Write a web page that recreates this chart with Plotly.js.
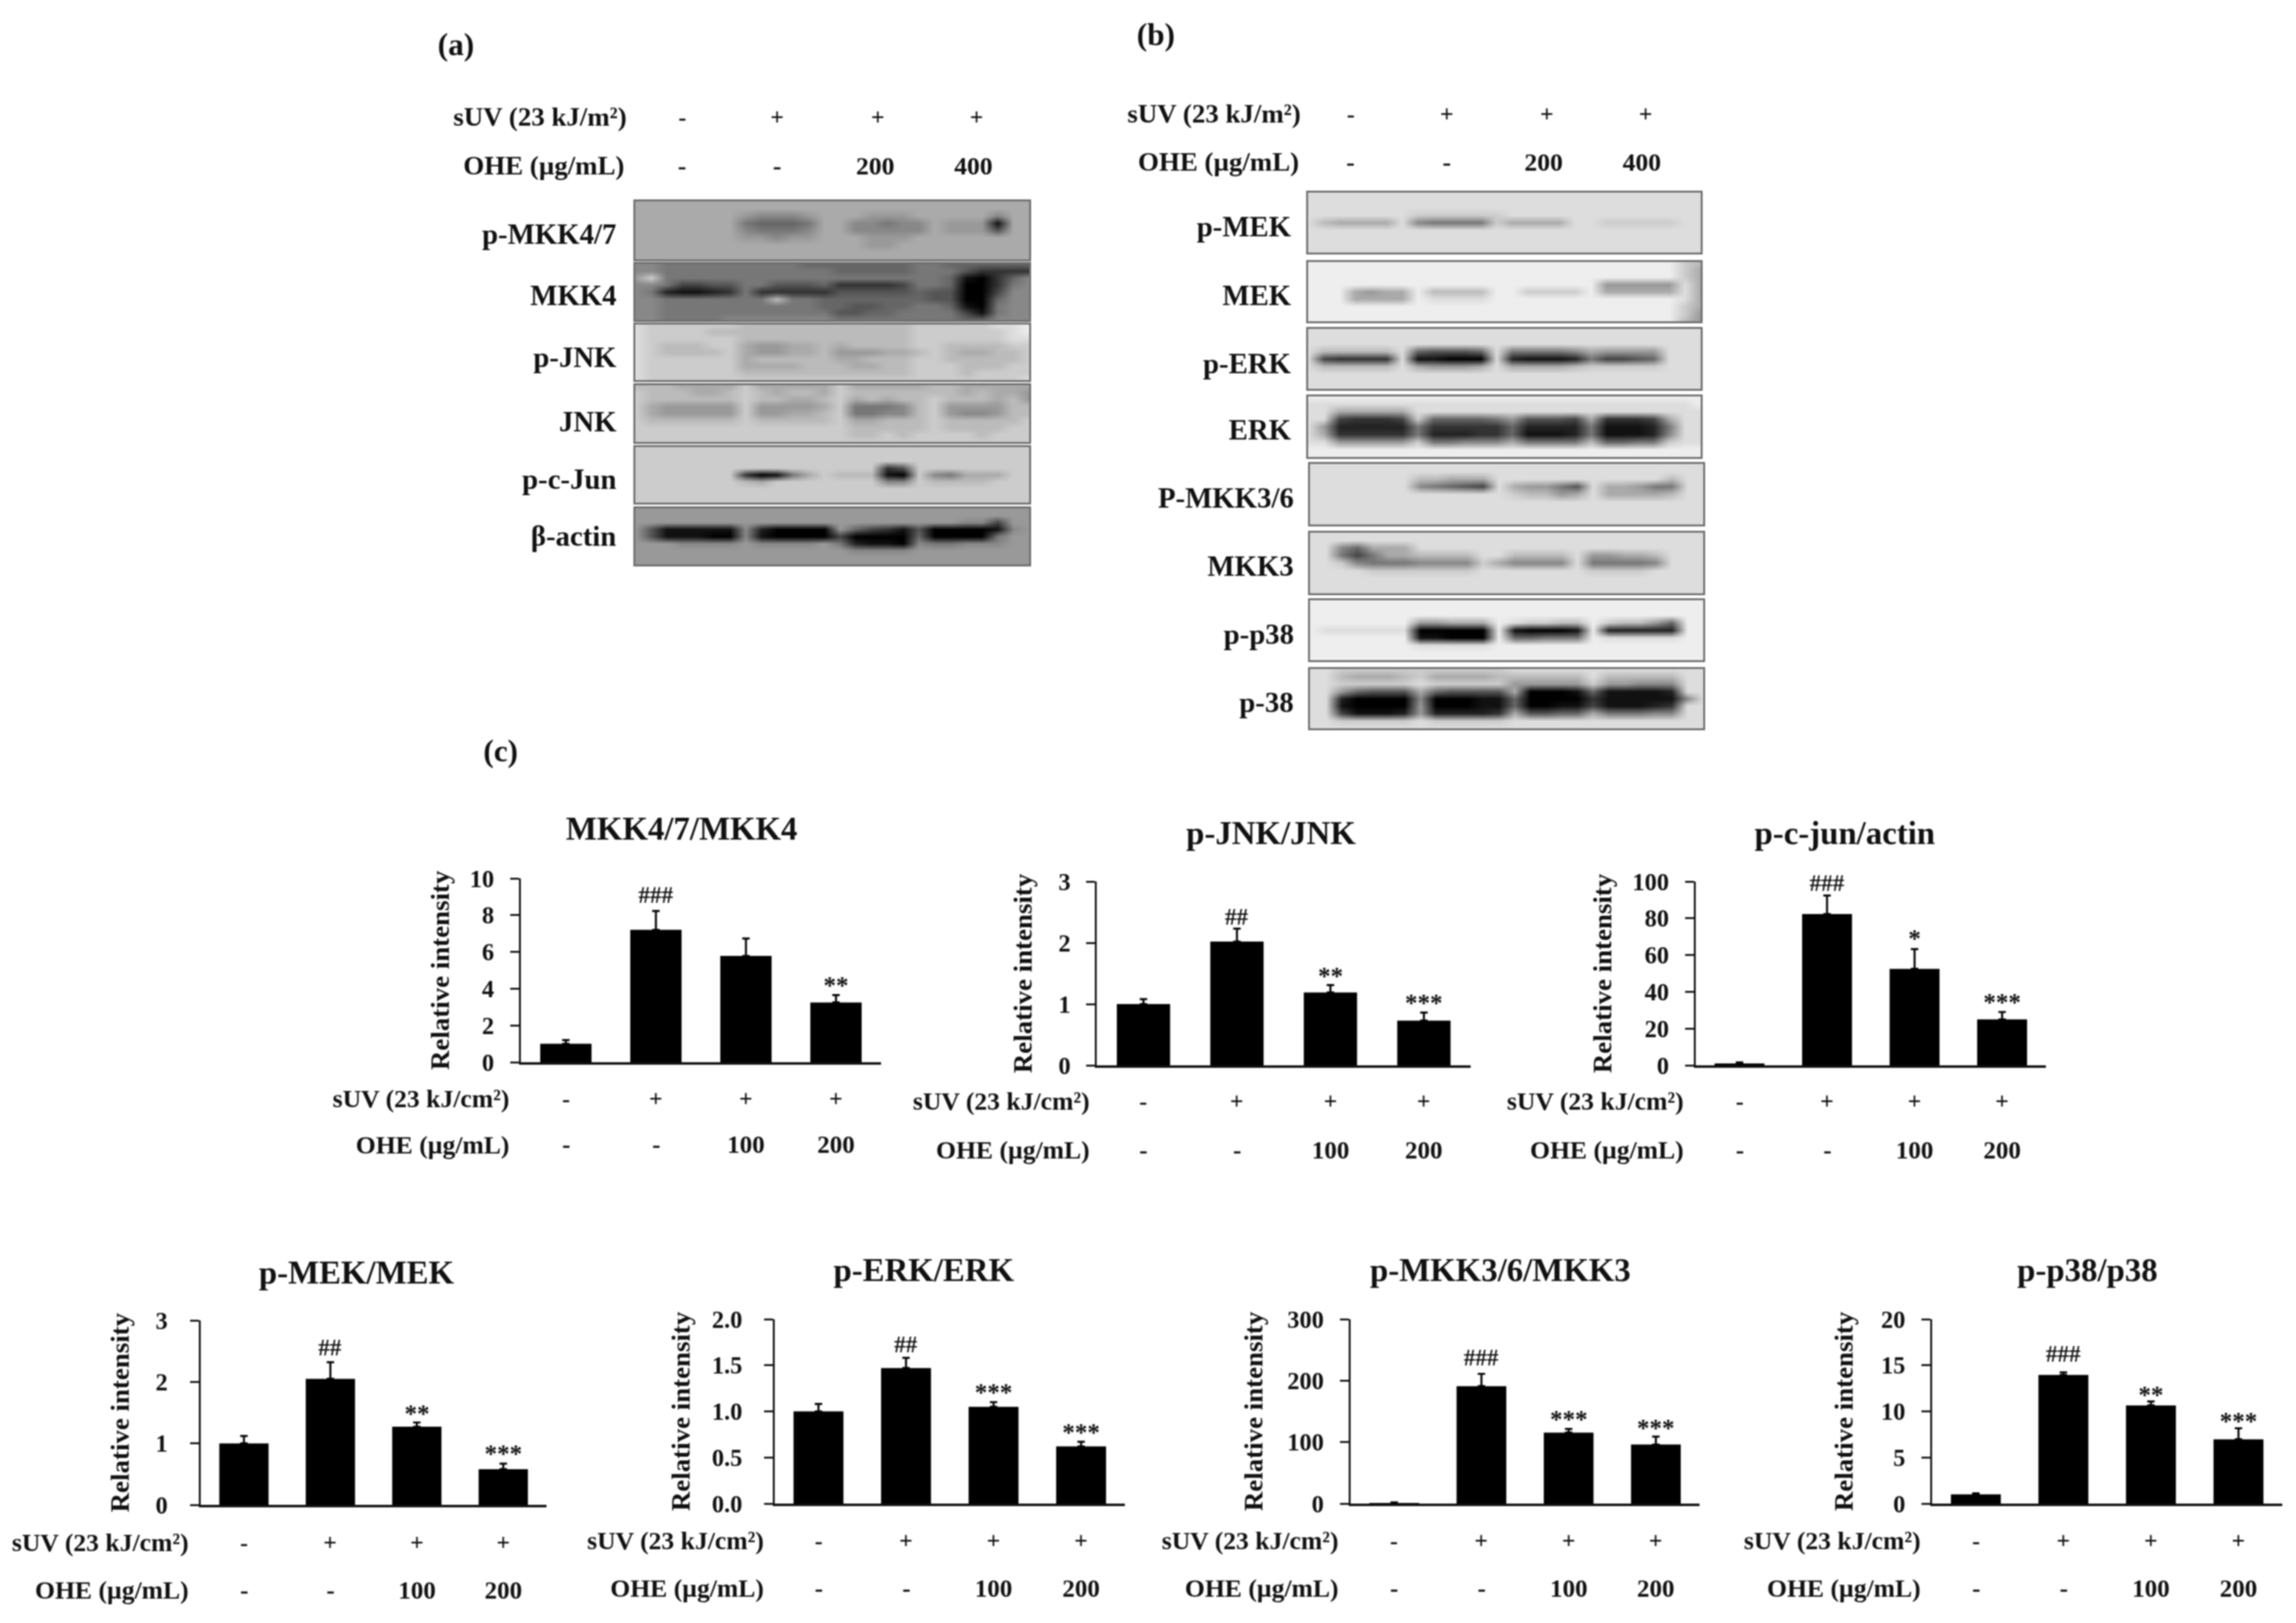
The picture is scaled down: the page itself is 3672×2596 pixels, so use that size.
<!DOCTYPE html>
<html><head><meta charset="utf-8">
<script src="https://cdn.plot.ly/plotly-3.0.1.min.js"></script>
<style>html,body{margin:0;padding:0;background:#fff}#plot{width:3672px;height:2596px;filter:blur(0.9px)}</style>
</head><body><div id="plot"></div>
<script>
// ---------- data ----------
const groups = [0, 1, 2, 3];
const sUVRow = ['-', '+', '+', '+'];
const oheRowC = ['-', '-', '100', '200'];
const oheRowBlot = ['-', '-', '200', '400'];

const mkk47Values = [1.0, 7.2, 5.78, 3.25];
const mkk47Errors = [0.2, 1.03, 0.95, 0.4];
const mkk47Sig = ['', '###', '', '**'];
const jnkValues = [1.0, 2.02, 1.19, 0.73];
const jnkErrors = [0.08, 0.21, 0.12, 0.13];
const jnkSig = ['', '##', '**', '***'];
const cjunValues = [1.0, 82.3, 52.5, 25.0];
const cjunErrors = [0.6, 10.1, 10.7, 4.0];
const cjunSig = ['', '###', '*', '***'];
const mekValues = [1.0, 2.05, 1.27, 0.58];
const mekErrors = [0.12, 0.27, 0.07, 0.09];
const mekSig = ['', '##', '**', '***'];
const erkValues = [1.0, 1.47, 1.05, 0.62];
const erkErrors = [0.08, 0.11, 0.05, 0.05];
const erkSig = ['', '##', '***', '***'];
const mkk36Values = [1.0, 191, 115.5, 96];
const mkk36Errors = [1.0, 20, 6, 13];
const mkk36Sig = ['', '###', '***', '***'];
const p38Values = [1.0, 13.95, 10.65, 6.97];
const p38Errors = [0.12, 0.28, 0.42, 1.2];
const p38Sig = ['', '###', '**', '***'];

const ticks010 = ['0', '2', '4', '6', '8', '10'];
const ticks03 = ['0', '1', '2', '3'];
const ticks0100 = ['0', '20', '40', '60', '80', '100'];
const ticks02 = ['0.0', '0.5', '1.0', '1.5', '2.0'];
const ticks0300 = ['0', '100', '200', '300'];
const ticks020 = ['0', '5', '10', '15', '20'];

// blot densities: one hex digit per cell, 0 = black, f = white
const blotMKK47p = ['aaaaaaaaaaaaaaaaaaaaaaaaaa','aaaaaaaaaaaaaaaaaaaaaaaaaa',
 'aaaaaaa 98889 aa a999a a aaa 8 aa','aaaaaaa 76667 aa 88788 a 999 1 aa','aaaaaaa 87778 aa 88888 a 999 5 aa',
 'aaaaaaa 99899 aa a999a a aaa a aa','aaaaaaaaaaaaaaa99aaaaaaaaa','aaaaaaaaaaaaaaaaaaaaaaaaaa','aaaaaaaaaaaaaaaaaaaaaaaaaa'];
const blotMKK4 = ['887 7777 777766 66666 776 66 666','887 7777 777777 66666 777 53 333','9c7 7777 777777 77777 776 10 368',
 '887 4455 775556 33334 776 00 378','872 1123 733333 55555 655 00 488','887 7777 77b776 66666 655 00 688',
 '887 7777 777776 65566 776 10 788','887 7777 777777 55667 777 41 788','887 7778 888888 77777 777 66 888'];
const blotJNKp = ['dcc cccc bbbbbb bbbbb ccc cc dde','dcc ccbb bbbbbb bbbbb ccc cc cde','dcc cccc bbbbbb bbbbb ccc cc cdd',
 'dcb bbcc a99aab abbbb ccb bb bcc','dcb bbbc a99aab 999aa bcb aa bbc','dcc cccc abbbbb aabbb ccb bb bbc',
 'dcc cccc aaaabb baabb ccc bb bcc','dcc cccc bbbbbb bbbbb ccc bc ccc','dcc cccc cccccc ccccc ccc cc ccd'];
const blotJNK = ['bbb aaaa caaaaa caaaa abb aa aaa','cbb baab cbabba cbbbb bbb ab aa9','cbb bbbb cbbaab cabab bcb bb ab9',
 'ca9 9999 c9999a c7778 bc9 99 9bb','ca9 9999 c99aab c7788 bc9 88 9bb','cbb bbbb cbbbbb caabb bcb bb bbc',
 'ccc cccc cccccc cbbbb bcb bb bcc','ccc cccc cccccc cbbcb ccc cb ccc','ccc cccc cccccc ccccc ccc cc ccc'];
const blotCJunp = ['cccccccccccccccccccccccccc','cccccccccccccccccccccccccc','cccccccccccccccccccccccccc',
 'ccc cccc cccccc ccc35 ccc cc ccc','ccc cccc 3017ac bbb10 c87 aa acc','ccc cccc bacccc ccc88 cbb bb ccc',
 'cccccccccccccccccccccccccc','cccccccccccccccccccccccccc','cccccccccccccccccccccccccc'];
const blotActin = ['999 9999 999999 99999 999 99 999','999 9999 999999 99999 999 99 999','999 9999 999999 99999 999 88 499',
 '951 1111 820000 96431 500 00 189','951 1100 810000 40000 600 00 799','999 8888 988889 72110 877 88 899',
 '999 9999 999999 98888 999 99 999','999 9999 999999 99999 999 99 999','999 9999 999999 99999 999 99 999'];
const blotMEKp = ['dddddddddddddddddddddddddd','dddddddddddddddddddddddddd','dddddddddddddddddddddddddd',
 'ddddddd cccccc ddddddddddddd','d b aaaa d 8 777 7 c aaaa d d ccccc dd','dddddddddddddddddddddddddd',
 'dddddddddddddddddddddddddd','dddddddddddddddddddddddddd','dddddddddddddddddddddddddd'];
const blotMEK = ['eeeeeeeeeeeeeeeeeeeeeeeecb','eeeeeeeeeeeeeeeeeeeeeeeeca','eeeeeeeeeeeeeeeeeeeeeeeeca',
 'eeeeeeeeeeeeeeeeeee99999da','eee a9aa e bbbb ee cccc e aaaaa d a','eee aaaa e dddd ee eeee e eeeee d a',
 'eeeeeeeeeeeeeeeeeeeeeeeeca','eeeeeeeeeeeeeeeeeeeeeeeec9','eeeeeeeeeeeeeeeeeeeeeeeeb9'];
const blotERKp = ['dddddddddddddddddddddddddd','dddddddddddddddddddddddddd','dddddddddddddddddddddddddd',
 'd bbbbb d 65556 d 77778 a9999 ddd','d 43333 d 11000 d 21112 74456 ddd','d bbbbb d a999a d aaaab ccccc ddd',
 'dddddddddddddddddddddddddd','dddddddddddddddddddddddddd','dddddddddddddddddddddddddd'];
const blotERK = ['eeeeeeeeeeeeeeeeeeeeeeeeee','ddddddddddddddddddddddddde','dd aaaaa d ddddd ddddd ddddd d dd',
 'dd 43334 c 66667 95554 a3334 a dd','d9 22222 7 33333 62222 71112 7 dd','da 33333 7 22233 61112 71112 8 dd',
 'dd 99999 c 77888 a7777 b6677 c dd','eeeeeeeeeeeeeeeeeeeeeeeeee','eeeeeeeeeeeeeeeeeeeeeeeeee'];
const blotMKK36p = ['dddddddddddddddddddddddddd','dddddddddddddddddddddddddd','ddddddd bbaaa d ddddd d ddddb dd',
 'ddddddd 87654 d a9975 d aa977 dd','ddddddd ddddd d cbb9a d aaaab dd','dddddddddddddddddddddddddd',
 'dddddddddddddddddddddddddd','dddddddddddddddddddddddddd','dddddddddddddddddddddddddd'];
const blotMKK3 = ['dddddddddddddddddddddddddd','dddddddddddddddddddddddddd','dd 86aaa ddddd ddddd d ddddd ddd',
 'dd 747aa bbbbd dbbbb d 99aab ddd','dd c8777 8888c a8888 d 77778 ddd','dd ddccc ccccd ddddd d ccccd ddd',
 'dddddddddddddddddddddddddd','dddddddddddddddddddddddddd','dddddddddddddddddddddddddd'];
const blotP38p = ['eeeeeeeeeeeeeeeeeeeeeeeeee','eeeeeeeeeeeeeeeeeeeeeeeeee','eeeeeeeeeeeeeeeeeeeeeeeeee',
 'e eeeee e 99aaa e dccbb e cbb96 ee','e ddddd d 00000 e 10001 e 22222 ee','e eeeee e 11000 e 66777 e ddddd ee',
 'e eeeee e ddddd e eeeee e eeeee ee','eeeeeeeeeeeeeeeeeeeeeeeeee','eeeeeeeeeeeeeeeeeeeeeeeeee'];
const blotP38 = ['dd ccccc c ccccc ddddd d ddddd dd','dd baaab c aaaab bbbbb d bbbbb dd','dd ccccc d ccccc 99999 c 99888 dd',
 'dd 96555 a 65555 a0001 6 11112 dd','dd 20000 8 00011 60000 3 11111 8d','dd 10000 9 00011 60011 4 11123 dd',
 'dd 41112 9 22223 a5566 a 77788 dd','dd ccccc d ccccc ddddd d ddddd dd','dd ddddd d ddddd ddddd d ddddd dd'];

// ---------- layout ----------
const W = 3672, H = 2596, FONT = 'Liberation Serif';
const px = x => x / W, py = y => 1 - y / H;
const BOLD = 'bold';

const charts = [
 {title:'MKK4/7/MKK4', v:mkk47Values, e:mkk47Errors, sig:mkk47Sig, sigY:[0,1431,0,1567], max:10, ticks:ticks010, ax:[833,1409,1405,1699], tx:1090, ty:1325, rowR:816, r1:1757, r2:1831, gap:18, so:20},
 {title:'p-JNK/JNK', v:jnkValues, e:jnkErrors, sig:jnkSig, sigY:[0,1466,1552,1595], max:3, ticks:ticks03, ax:[1754,2352,1410,1704], tx:2032, ty:1332, rowR:1744, r1:1761, r2:1839, gap:17, so:29},
 {title:'p-c-jun/actin', v:cjunValues, e:cjunErrors, sig:cjunSig, sigY:[0,1412,1492,1594], max:100, ticks:ticks0100, ax:[2712,3272,1410,1704], tx:2950, ty:1332, rowR:2694, r1:1761, r2:1839, gap:18, so:20},
 {title:'p-MEK/MEK', v:mekValues, e:mekErrors, sig:mekSig, sigY:[0,2155,2252,2316], max:3, ticks:ticks03, ax:[321,874,2112,2407], tx:570, ty:2035, rowR:303, r1:2467, r2:2543, gap:28, so:29},
 {title:'p-ERK/ERK', v:erkValues, e:erkErrors, sig:erkSig, sigY:[0,2150,2218,2282], max:2, ticks:ticks02, ax:[1239,1799,2110,2405], tx:1477, ty:2031, rowR:1223, r1:2464, r2:2540, gap:27, so:22},
 {title:'p-MKK3/6/MKK3', v:mkk36Values, e:mkk36Errors, sig:mkk36Sig, sigY:[0,2171,2261,2275], max:300, ticks:ticks0300, ax:[2160,2718,2110,2405], tx:2399, ty:2031, rowR:2142, r1:2464, r2:2540, gap:18, so:26},
 {title:'p-p38/p38', v:p38Values, e:p38Errors, sig:p38Sig, sigY:[0,2165,2222,2264], max:20, ticks:ticks020, ax:[3090,3650,2110,2405], tx:3338, ty:2031, rowR:3073, r1:2464, r2:2540, gap:18, so:32},
];

const blots = [
 {name:'p-MKK4/7', z:blotMKK47p, box:[1016,1646,322,415], lx:987, ly:374},
 {name:'MKK4', z:blotMKK4, box:[1016,1646,422,512], lx:987, ly:472},
 {name:'p-JNK', z:blotJNKp, box:[1016,1646,519,608], lx:987, ly:572},
 {name:'JNK', z:blotJNK, box:[1016,1646,616,707], lx:987, ly:674},
 {name:'p-c-Jun', z:blotCJunp, box:[1016,1646,715,804], lx:987, ly:766},
 {name:'β-actin', z:blotActin, box:[1016,1646,813,903], lx:987, ly:857},
 {name:'p-MEK', z:blotMEKp, box:[2092,2720,308,404], lx:2066, ly:363},
 {name:'MEK', z:blotMEK, box:[2092,2720,419,514], lx:2066, ly:473},
 {name:'p-ERK', z:blotERKp, box:[2092,2720,526,622], lx:2066, ly:581},
 {name:'ERK', z:blotERK, box:[2092,2720,634,731], lx:2066, ly:687},
 {name:'P-MKK3/6', z:blotMKK36p, box:[2095,2724,742,839], lx:2070, ly:796},
 {name:'MKK3', z:blotMKK3, box:[2095,2724,852,949], lx:2070, ly:905},
 {name:'p-p38', z:blotP38p, box:[2095,2724,960,1056], lx:2070, ly:1014},
 {name:'p-38', z:blotP38, box:[2095,2724,1070,1165], lx:2070, ly:1123},
];

const data = [], annotations = [], layout = {
  width: W, height: H, margin: {l:0, r:0, t:0, b:0}, paper_bgcolor:'#fff', plot_bgcolor:'rgba(0,0,0,0)',
  showlegend:false, font:{family:FONT, color:'#111'}, annotations
};
const note = (text, x, y, size, o={}) => annotations.push(Object.assign({
  text, x, y, xref:'paper', yref:'paper', showarrow:false, xanchor:'center', yanchor:'middle', borderpad:0,
  font:{family:FONT, size, color:'#111', weight:BOLD}
}, o));

charts.forEach((c, i) => {
  const n = i + 1, xa = 'xaxis' + (n>1?n:''), ya = 'yaxis' + (n>1?n:''), xr = 'x' + (n>1?n:''), yr = 'y' + (n>1?n:'');
  const [x0, x1, y0, y1] = c.ax;
  data.push({type:'bar', x:groups, y:c.v, width:0.57, xaxis:xr, yaxis:yr, marker:{color:'#000', line:{width:0}}, hoverinfo:'skip',
    error_y:{type:'data', symmetric:false, array:c.e, arrayminus:groups.map(() => 0), color:'#000', thickness:3.2, width:6}});
  layout[xa] = {domain:[px(x0), px(x1)], range:[-0.5, 3.5], anchor:yr, showticklabels:false, ticks:'', showgrid:false, zeroline:false,
    showline:true, linecolor:'#111', linewidth:4, fixedrange:true};
  const tv = c.ticks.map(Number);
  layout[ya] = {domain:[py(y1), py(y0)], range:[0, c.max], anchor:xr, tickmode:'array', tickvals:tv, ticktext:c.ticks,
    ticks:'outside', ticklen:14, tickwidth:3, tickcolor:'#111', ticklabelstandoff:c.gap, showgrid:false, zeroline:false,
    showline:true, linecolor:'#111', linewidth:3, fixedrange:true, tickfont:{family:FONT, size:39, color:'#111', weight:BOLD},
    title:{text:'Relative intensity', standoff:c.so, font:{family:FONT, size:43, color:'#111', weight:BOLD}}};
  note(c.title, px(c.tx), py(c.ty), 52.5);
  note('sUV (23 kJ/cm²)', px(c.rowR), py(c.r1), 41, {xanchor:'right'});
  note('OHE (µg/mL)', px(c.rowR), py(c.r2), 41, {xanchor:'right'});
  groups.forEach(g => {
    note(sUVRow[g], g, py(c.r1), 38, {xref:xr});
    note(oheRowC[g], g, py(c.r2), 40, {xref:xr});
    if (c.sig[g]) note(c.sig[g], g, py(c.sigY[g] + (c.sig[g][0]==='*' ? 8 : 0)), c.sig[g][0]==='*' ? 40 : 37, {xref:xr});
  });
});

blots.forEach((b, i) => {
  const n = charts.length + i + 1, xr = 'x'+n, yr = 'y'+n;
  const [x0, x1, y0, y1] = b.box;
  const z = b.z.map(s => { const t = s.replace(/ /g,''); return t.padEnd(26, t[t.length-1]).slice(0,26).split('').map(ch => parseInt(ch,16)); });
  data.push({type:'heatmap', z, xaxis:xr, yaxis:yr, zmin:0, zmax:15, zsmooth:'best', showscale:false, hoverinfo:'skip',
    colorscale:[[0,'#000'],[1,'#fff']]});
  const common = {showticklabels:false, ticks:'', showgrid:false, zeroline:false, showline:true, mirror:true, linecolor:'#6c6c6c', linewidth:3, fixedrange:true};
  layout['xaxis'+n] = Object.assign({domain:[px(x0),px(x1)], range:[0,25], anchor:yr}, common);
  layout['yaxis'+n] = Object.assign({domain:[py(y1),py(y0)], range:[8,0], anchor:xr}, common);
  note(b.name, px(b.lx), py(b.ly), 46, {xanchor:'right'});
});

// panel letters and blot headers
note('(a)', px(729), py(71), 50);
note('(b)', px(1849), py(55), 50);
note('(c)', px(801), py(1201), 50);
const headers = [
 {l:1003, l2:1000, y1:187, y2:265, s:[1091,1243,1404,1562], o:[1091,1243,1400,1557]},
 {l:2081, l2:2079, y1:182, y2:259, s:[2160,2314,2474,2632], o:[2160,2314,2469,2626]},
];
headers.forEach(h => {
  note('sUV (23 kJ/m²)', px(h.l), py(h.y1), 43, {xanchor:'right'});
  note('OHE (µg/mL)', px(h.l2), py(h.y2), 43, {xanchor:'right'});
  groups.forEach(g => {
    note(sUVRow[g], px(h.s[g]), py(h.y1), 38);
    note(oheRowBlot[g], px(h.o[g]), py(h.y2), 41);
  });
});

Plotly.newPlot('plot', data, layout, {staticPlot:true, displayModeBar:false});
</script></body></html>
